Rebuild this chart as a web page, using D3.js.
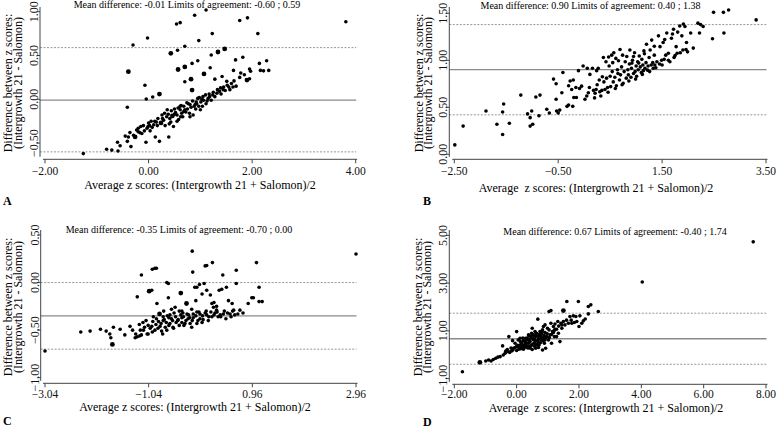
<!DOCTYPE html>
<html>
<head>
<meta charset="utf-8">
<script src="https://cdn.jsdelivr.net/npm/d3@7/dist/d3.min.js"></script>
<style>
  body { margin: 0; background: #fff; }
  svg { display: block; font-family: "Liberation Serif", "DejaVu Serif", serif; }
</style>
</head>
<body>
<div id="chart"></div>
<script>
// [average, difference, big?]
const pointsA = [
  [1.11,1.02],[0.89,0.96],[0.54,0.86],[0.61,0.875],[1.76,0.90],[1.91,0.93],[1.23,0.75],[2.11,0.75],
  [-0.02,0.70],[0.97,0.67],[-0.30,0.62],[0.70,0.605],[0.56,0.56],[0.43,0.525,1],[1.34,0.54,1],[1.47,0.575,1],
  [1.21,0.505],[1.68,0.45],[1.82,0.48],[0.95,0.44],[0.84,0.41],[2.14,0.41],[2.28,0.44],[0.57,0.34,1],
  [0.70,0.37,1],[1.19,0.36],[1.07,0.29,1],[-0.39,0.315,1],[1.64,0.33],[1.78,0.30],[1.97,0.32],[1.95,0.345],
  [2.16,0.33],[2.32,0.33],[2.22,0.325],[1.42,0.26],[1.28,0.23],[0.82,0.23,1],[0.70,0.20],[1.76,0.25],
  [1.85,0.28],[1.90,0.22,1],[1.95,0.235],[1.65,0.21],[1.51,0.205],[1.60,0.18],[1.69,0.15],[1.55,0.14],
  [1.39,0.13],[-0.07,0.16],[0.84,0.105,1],[0.21,0.06,1],[0.08,0.027],[-0.045,0.004],[-0.41,-0.09],[3.81,0.886],
  [-1.26,-0.62],[-0.81,-0.57],[-0.71,-0.58],[-0.59,-0.59],[-0.60,-0.49],[-0.55,-0.53],[-0.39,-0.43],[-0.41,-0.48],
  [-0.34,-0.54],[-0.29,-0.41],[-0.26,-0.43,1],[-0.23,-0.35],[-0.17,-0.38],[-0.13,-0.39],[-0.15,-0.31],[-0.08,-0.36],
  [-0.05,-0.49],[-0.03,-0.33],[0.02,-0.30],[0.03,-0.36],[0.07,-0.32],[0.10,-0.29],[0.13,-0.43],[0.17,-0.30],
  [0.21,-0.48],[0.24,-0.27,1],[0.29,-0.24],[0.32,-0.30],[0.36,-0.12],[0.39,-0.43],[0.41,-0.22],[0.43,-0.26],
  [0.46,-0.19,1],[0.48,-0.31],[0.52,-0.15],[0.55,-0.18],[0.58,-0.23],[0.61,-0.12],[0.64,-0.16],[0.66,-0.20],
  [0.70,-0.12],[0.72,-0.145],[0.75,-0.11],[0.79,-0.16],[0.82,-0.09],[0.86,-0.18],[0.88,-0.08],[0.91,-0.11],
  [0.93,-0.05],[0.97,-0.08],[1.01,-0.03],[1.04,-0.08],[1.06,-0.01],[1.11,-0.05],[1.15,0.01],[1.18,0.03],
  [1.21,-0.01],[1.24,0.05],[1.28,0.03],[1.32,0.07],[1.37,0.09],[1.40,0.06],[1.44,0.11],[1.48,0.10],
  [1.57,0.11],[1.63,0.14],[1.03,0.00],[0.77,-0.05],[0.61,-0.08],[0.95,0.01],[1.00,-0.12],[0.35,-0.20],
  [0.50,-0.17],[0.68,-0.14],[0.90,-0.06],[1.13,-0.02],[0.27,-0.22],[0.15,-0.26],[-0.01,-0.31],[-0.20,-0.37],
  [-0.20,-0.33],[-0.10,-0.30],[0.00,-0.27],[0.05,-0.25],[0.12,-0.25],[0.18,-0.22],[0.26,-0.18],[0.31,-0.16],
  [0.38,-0.17],[0.44,-0.13],[0.50,-0.11],[0.57,-0.10],[0.63,-0.07],[0.68,-0.08],[0.74,-0.04],[0.80,-0.06],
  [0.85,-0.02],[0.92,-0.03],[0.98,0.02],[1.05,0.03],[1.10,0.05],[1.17,0.06],[1.25,0.08],[1.33,0.11],
  [1.45,0.14],[1.52,0.16],[0.40,-0.28],[0.55,-0.25],[0.62,-0.20],[0.80,-0.20],[-0.45,-0.42],[-0.36,-0.38]
];
const pointsB = [
  [-2.49,0.10],[-2.33,0.30],[-1.89,0.46],[-1.68,0.32],[-1.55,0.535],[-1.57,0.45],[-1.44,0.33],[-1.57,0.21],
  [-1.22,0.63],[-1.09,0.43],[-1.04,0.39],[-1.01,0.46],[-1.04,0.30],[-0.99,0.32],[-0.93,0.61],[-0.85,0.63],
  [-0.87,0.41],[-0.72,0.48],[-0.67,0.44],[-0.59,0.80],[-0.54,0.75],[-0.54,0.585],[-0.50,0.44],[-0.53,0.46],
  [-0.47,0.47],[-0.43,0.655],[-0.41,0.87],[-0.33,0.51],[-0.30,0.525],[-0.30,0.73],[-0.27,0.78],[-0.24,0.69],
  [-0.22,0.51],[-0.21,0.79],[-0.20,0.605],[-0.16,0.71],[-0.15,0.605],[-0.11,0.89],[-0.09,0.70],[-0.05,0.725],
  [-0.02,0.94],[0.015,0.585],[0.05,0.62],[0.06,0.915],[0.08,0.655],[0.10,0.71],[0.11,0.85],[0.16,0.915],
  [0.18,0.68],[0.21,0.65],[0.23,0.69],[0.24,0.89],[0.27,0.915],[0.29,0.79],[0.30,0.665],[0.34,0.68],
  [0.35,0.825],[0.37,1.03],[0.38,0.77],[0.40,0.69],[0.42,0.985],[0.43,0.81],[0.45,0.71],[0.47,1.035],
  [0.48,0.94],[0.50,0.83],[0.51,0.72],[0.53,1.055],[0.54,0.88],[0.55,0.975],[0.56,0.77],[0.57,1.08],
  [0.59,0.82],[0.61,1.02],[0.62,0.73],[0.64,0.90],[0.66,0.995],[0.68,0.79],[0.69,1.115],[0.70,0.845],
  [0.72,0.93],[0.74,1.055],[0.75,0.755],[0.77,0.88],[0.79,0.985],[0.81,0.81],[0.82,1.04],[0.84,0.90],
  [0.85,0.845],[0.87,0.96],[0.88,1.11],[0.90,0.82],[0.91,0.915],[0.93,1.00],[0.95,0.86],[0.97,1.08],
  [0.98,0.88],[1.00,0.94],[1.01,0.83],[1.03,0.985],[1.04,0.90],[1.06,1.045],[1.08,0.93],[1.10,0.87],
  [1.11,1.01],[1.13,0.95],[1.14,0.89],[1.16,1.07],[1.17,0.915],[1.19,0.975],[1.20,1.17],[1.22,0.895],
  [1.23,0.94],[1.25,1.03],[1.27,1.11],[1.29,0.95],[1.30,1.215],[1.32,0.975],[1.33,0.915],[1.35,1.055],
  [1.36,0.95],[1.40,0.985],[1.43,1.26],[1.45,0.96],[1.46,1.145],[1.49,1.00],[1.52,1.19],[1.54,1.01],
  [1.57,1.055],[1.59,1.29],[1.62,1.075],[1.65,0.985],[1.68,1.235],[1.72,1.33],[1.73,1.03],[1.77,1.145],
  [1.79,1.075],[1.84,1.365],[1.88,1.26],[1.90,1.11],[1.91,1.385],[1.94,1.36],[1.96,1.115],[1.97,1.19],
  [1.99,1.09],[2.05,1.29],[2.10,1.13],[2.19,1.395],[2.22,1.29],[2.24,1.38],[2.29,1.36],[2.47,1.23],
  [2.49,1.51],[2.68,1.51],[2.69,1.29],[2.78,1.535],[3.31,1.43],
  [0.20,0.60],[0.32,0.62],[0.46,0.66],[0.60,0.70],[0.73,0.74],[0.86,0.78],[0.99,0.80],[1.12,0.85],
  [1.26,0.88],[1.38,0.92],[1.50,0.95],[1.62,1.00],[1.75,1.05],[1.85,1.08],[0.95,1.04],[1.15,1.10],
  [1.35,1.15],[1.55,1.22],[1.70,1.28],[1.80,1.30],[0.25,0.74],[0.65,0.86],[0.92,0.97],[1.05,0.97]
];
const pointsC = [
  [-3.04,-0.72],[-2.35,-0.52],[-2.17,-0.51],[-1.97,-0.49],[-1.86,-0.51],[-1.79,-0.54],[-1.72,-0.47],[-1.77,-0.58],
  [-1.74,-0.65,1],[-1.59,-0.49],[-1.50,-0.55],[-1.40,-0.46],[-1.35,-0.50],[-1.30,-0.58],[-1.26,-0.57],[-1.26,-0.15],
  [-1.21,-0.56],[-1.18,0.08],[-1.22,-0.44],[-1.14,-0.50],[-1.09,-0.40],[-1.07,-0.54],[-1.03,-0.09,1],[-0.98,-0.08],
  [-1.01,-0.48],[-0.97,0.14],[-0.92,0.15],[-0.89,0.15],[-0.96,-0.41],[-0.92,-0.50],[-0.88,-0.22],[-0.89,-0.38],
  [-0.83,-0.33,1],[-0.82,-0.46],[-0.79,-0.51],[-0.76,-0.40],[-0.72,-0.47],[-0.69,0.00],[-0.66,-0.01],[-0.68,-0.35],
  [-0.66,-0.16],[-0.63,-0.43],[-0.60,-0.38],[-0.57,-0.47],[-0.55,-0.32],[-0.53,-0.26],[-0.51,-0.42],[-0.48,-0.40],
  [-0.42,-0.11,1],[-0.40,-0.37],[-0.38,-0.32],[-0.36,-0.45],[-0.32,-0.40],[-0.31,-0.22,1],[-0.27,-0.34],[-0.24,-0.43],
  [-0.20,0.33],[-0.19,0.11],[-0.18,-0.37],[-0.15,-0.05],[-0.13,-0.19],[-0.11,-0.31],[-0.09,-0.40],[-0.06,-0.02],
  [0.03,-0.01],[0.05,0.175],[0.08,0.18],[0.19,0.21],[-0.11,-0.05],[-0.01,-0.12],[0.08,-0.08],[0.15,-0.13],
  [0.18,-0.22],[0.22,-0.21],[0.27,-0.29],[0.30,-0.36],[0.32,-0.08],[0.37,-0.07],[0.39,0.08],[0.46,-0.05],
  [0.50,-0.19],[0.53,-0.33],[0.57,-0.22],[0.60,-0.29],[0.65,0.13],[0.65,-0.01],[0.72,-0.29],[0.78,-0.32],
  [0.88,-0.22],[0.95,-0.16],[0.98,-0.16],[1.04,0.21],[1.09,-0.05],[1.09,-0.20],[1.15,-0.20],[0.08,-0.34],
  [0.18,-0.36],[0.24,-0.32],[0.34,-0.34],[0.40,-0.33],[-0.05,-0.33],[0.01,-0.39],[0.11,-0.40],[-0.21,-0.47],
  [-0.11,-0.43],[-0.01,-0.42],[-0.45,-0.45],[-0.34,-0.43],[-0.56,-0.48],[-0.69,-0.50],[-0.77,-0.54],[-0.97,-0.52],
  [-1.05,-0.54],[-1.18,-0.55],[-1.29,-0.54],[0.21,-0.26],[0.27,-0.25],[0.07,-0.30],[-0.21,-0.28],[-0.63,-0.34],
  [-0.76,-0.36],[-0.05,-0.38],[2.96,0.30],[-0.40,-0.30],[-0.28,-0.38],[0.45,-0.38],[0.55,-0.36],[0.62,-0.34],
  [-1.20,-0.50],[-1.12,-0.47],[-1.05,-0.45],[-0.98,-0.46],[-0.90,-0.44],[-0.85,-0.41],[-0.80,-0.43],[-0.74,-0.39],
  [-0.70,-0.42],[-0.65,-0.37],[-0.58,-0.40],[-0.52,-0.36],[-0.47,-0.39],[-0.42,-0.34],[-0.37,-0.36],[-0.30,-0.33],
  [-0.25,-0.37],[-0.18,-0.33],[-0.13,-0.35],[-0.07,-0.31],[0.00,-0.35],[0.05,-0.32],[0.12,-0.36],[0.16,-0.31],
  [0.22,-0.34],[0.28,-0.31],[0.35,-0.36],[0.42,-0.30],[0.48,-0.32],[0.58,-0.30],[0.68,-0.33],[-1.15,-0.42],
  [-0.95,-0.36],[-0.75,-0.30],[-0.60,-0.28],[-0.45,-0.30],[-0.86,-0.48],[-0.65,-0.45],[-0.40,-0.42],[-0.20,-0.40]
];
const pointsD = [
  [-1.74,-0.71],[-1.18,-0.32,1],[-0.99,-0.26],[-0.82,-0.26],[-0.67,-0.15],[-0.53,-0.08],[-0.43,-0.01],[-0.37,0.06],
  [-0.45,0.37],[-0.27,0.13],[-0.25,0.76],[-0.16,0.16],[-0.13,0.59],[-0.10,0.27],[0.00,0.97],[0.00,0.34],
  [0.05,0.62],[0.07,0.23],[0.11,0.41],[0.16,0.48],[0.16,0.31],[0.22,0.59],[0.22,0.23],[0.25,0.41],
  [0.29,0.69],[0.32,0.48],[0.32,0.31],[0.35,0.62],[0.38,0.37],[0.40,0.79],[0.43,0.55],[0.43,0.27],
  [0.46,0.69],[0.48,0.41],[0.50,1.11],[0.54,0.62],[0.54,0.83],[0.57,0.48],[0.59,0.73],[0.61,0.27],
  [0.64,0.90],[0.68,0.55],[0.68,1.49],[0.70,0.76],[0.72,0.41],[0.75,0.97],[0.78,0.62],[0.80,0.87],
  [0.83,0.20],[0.86,1.18],[0.86,0.69],[0.89,0.48],[0.91,0.93],[0.93,0.27],[0.96,0.76],[0.99,1.11],
  [1.02,0.62],[1.04,1.81],[1.07,0.83],[1.10,1.32],[1.10,1.85],[1.12,0.48],[1.15,0.97],[1.18,1.18],
  [1.21,0.76],[1.23,1.29],[1.28,1.07],[1.32,1.39],[1.34,0.90],[1.39,0.55],[1.42,1.32],[1.45,1.11],
  [1.50,1.39],[1.50,1.85,1],[1.55,1.25],[1.61,2.23],[1.66,1.32],[1.71,1.60],[1.77,1.32],[1.82,1.63],
  [1.85,1.35],[1.90,1.60],[1.93,1.39],[1.98,2.23],[2.00,1.18],[2.03,1.63],[2.14,1.42],[2.09,1.32],
  [2.30,2.02],[2.30,1.71],[2.38,2.09],[2.62,1.81],[-0.05,0.48],[0.11,0.69],[0.27,0.55],[0.38,0.83],
  [0.48,0.90],[0.59,0.97],[0.64,0.41],[0.78,0.76],[0.91,0.62],[1.04,1.04],[1.18,0.93],[1.23,1.07],
  [1.28,0.76],[0.91,1.25],[0.83,1.04],[4.03,3.05],[7.59,4.73],
  [-0.35,0.15],[-0.30,0.22],[-0.22,0.10],[-0.18,0.28],[-0.12,0.20],[-0.05,0.30],[0.00,0.18],[0.03,0.40],
  [0.08,0.32],[0.12,0.55],[0.14,0.25],[0.19,0.38],[0.20,0.70],[0.24,0.30],[0.28,0.50],[0.30,0.40],
  [0.34,0.70],[0.36,0.28],[0.40,0.50],[0.42,0.62],[0.45,0.36],[0.47,0.78],[0.52,0.45],[0.55,0.70],
  [0.58,0.35],[0.60,0.60],[0.63,0.80],[0.66,0.45],[0.70,0.65],[0.73,0.85],[0.76,0.50],[0.79,0.70],
  [0.82,0.95],[0.85,0.58],[0.88,0.80],[0.94,0.70],[0.98,0.88],[1.05,0.72],[1.12,0.85],[1.20,1.00],
  [-0.60,-0.10],[-0.75,-0.20],[-0.90,-0.22],[0.50,0.22],[0.70,0.30],[1.35,1.20],[1.45,1.25],[1.60,1.45],
  [1.75,1.45],[2.20,1.50]
];

// mean difference, lower limit, upper limit
const linesA = [-0.01, -0.60, 0.59];
const linesB = [0.90, 0.42, 1.38];
const linesC = [-0.35, -0.70, 0.00];
const linesD = [0.67, -0.40, 1.74];

const xTicksA = [-2, 0, 2, 4];
const yTicksA = [-0.5, 0, 0.5, 1];
const xTicksB = [-2.5, -0.5, 1.5, 3.5];
const yTicksB = [0, 0.5, 1, 1.5];
const xTicksC = [-3.04, -1.04, 0.96, 2.96];
const yTicksC = [-1, -0.5, 0, 0.5];
const xTicksD = [-2, 0, 2, 4, 6, 8];
const yTicksD = [-1, 1, 3, 5];

const titles = [
  "Mean difference: -0.01 Limits of agreement: -0.60 ; 0.59",
  "Mean difference: 0.90 Limits of agreement: 0.40 ; 1.38",
  "Mean difference: -0.35 Limits of agreement: -0.70 ; 0.00",
  "Mean difference: 0.67 Limits of agreement: -0.40 ; 1.74"
];
const xLabels = [
  "Average z scores: (Intergrowth 21 + Salomon)/2",
  "Average  z scores: (Intergrowth 21 + Salomon)/2",
  "Average z scores: (Intergrowth 21 + Salomon)/2",
  "Average  z scores: (Intergrowth 21 + Salomon)/2"
];
const yLabel1 = "Difference between z scores:";
const yLabel2 = "(Intergrowth 21 - Salomon)";
const letters = ["A", "B", "C", "D"];

const W = 778, H = 430;
const svg = d3.select("#chart").append("svg")
    .attr("width", W)
    .attr("height", H);

const fmt = d3.format(".2f");

function drawPanel(p) {
    const x = d3.scaleLinear().domain(p.xDomain).range(p.xRange);
    const y = d3.scaleLinear().domain(p.yDomain).range(p.yRange);
    const g = svg.append("g");
    const left = p.axisX, right = p.xRange[1] + 0.5;

    // reference lines
    g.append("line")
        .attr("x1", left).attr("x2", right)
        .attr("y1", y(p.lines[0])).attr("y2", y(p.lines[0]))
        .attr("stroke", "#8a8a8a").attr("stroke-width", 1.3);
    p.lines.slice(1).forEach(v => {
        g.append("line")
            .attr("x1", left).attr("x2", right)
            .attr("y1", y(v)).attr("y2", y(v))
            .attr("stroke", "#8a8a8a").attr("stroke-width", 0.9)
            .attr("stroke-dasharray", "2,1.5");
    });

    // y axis
    g.append("line")
        .attr("x1", p.axisX).attr("x2", p.axisX)
        .attr("y1", p.axisTop).attr("y2", p.axisY - 2.5)
        .attr("stroke", "#444").attr("stroke-width", 1);
    p.yTicks.forEach(v => {
        g.append("line")
            .attr("x1", p.axisX - 3.5).attr("x2", p.axisX)
            .attr("y1", y(v)).attr("y2", y(v))
            .attr("stroke", "#444");
        g.append("text")
            .attr("transform", `translate(${p.axisX - 2},${y(v)}) rotate(-90)`)
            .attr("text-anchor", "middle")
            .attr("font-size", 12)
            .attr("fill", "#111")
            .text(fmt(v));
    });

    // x axis
    g.append("line")
        .attr("x1", p.xRange[0] - 2).attr("x2", p.xRange[1] + 1.5)
        .attr("y1", p.axisY).attr("y2", p.axisY)
        .attr("stroke", "#444").attr("stroke-width", 1);
    p.xTicks.forEach(v => {
        g.append("line")
            .attr("x1", x(v)).attr("x2", x(v))
            .attr("y1", p.axisY).attr("y2", p.axisY + 4)
            .attr("stroke", "#444");
        g.append("text")
            .attr("x", x(v)).attr("y", p.axisY + p.tickGap)
            .attr("text-anchor", "middle")
            .attr("font-size", 11.5)
            .attr("fill", "#111")
            .text(fmt(v));
    });

    // points
    g.selectAll("circle.pt").data(p.points).join("circle")
        .attr("class", "pt")
        .attr("cx", d => x(d[0]))
        .attr("cy", d => y(d[1]))
        .attr("r", d => d[2] ? 2.4 : 1.8)
        .attr("fill", "#000");

    // texts
    g.append("text")
        .attr("x", p.titlePos[0]).attr("y", p.titlePos[1])
        .attr("text-anchor", "middle").attr("font-size", 10)
        .attr("fill", "#000")
        .text(p.title);
    g.append("text")
        .attr("x", p.xLabelPos[0]).attr("y", p.xLabelPos[1])
        .attr("text-anchor", "middle").attr("font-size", 12)
        .attr("fill", "#000")
        .style("white-space", "pre")
        .text(p.xLabel);
    [yLabel1, yLabel2].forEach((t, i) => {
        g.append("text")
            .attr("transform", `translate(${p.yLabelX[i]},${p.yLabelY}) rotate(-90)`)
            .attr("text-anchor", "middle").attr("font-size", 12)
            .attr("fill", "#000")
            .text(t);
    });
    g.append("text")
        .attr("x", p.letterPos[0]).attr("y", p.letterPos[1])
        .attr("font-size", 12).attr("font-weight", "bold")
        .attr("fill", "#000")
        .text(p.letter);
}

drawPanel({
    points: pointsA, lines: linesA, xTicks: xTicksA, yTicks: yTicksA,
    xDomain: [-2, 4], xRange: [45, 355.7], yDomain: [-0.5, 1], yRange: [143.1, 11.7],
    axisX: 40, axisY: 159.3, axisTop: 7, tickGap: 15.5,
    title: titles[0], titlePos: [187, 8],
    xLabel: xLabels[0], xLabelPos: [200, 188.8],
    yLabelX: [12, 22], yLabelY: 83,
    letter: letters[0], letterPos: [3, 205]
});
drawPanel({
    points: pointsB, lines: linesB, xTicks: xTicksB, yTicks: yTicksB,
    xDomain: [-2.5, 3.5], xRange: [454.3, 766], yDomain: [0, 1.5], yRange: [154.3, 13.3],
    axisX: 449.3, axisY: 159.3, axisTop: 7, tickGap: 15.5,
    title: titles[1], titlePos: [590.5, 9],
    xLabel: xLabels[1], xLabelPos: [596, 192],
    yLabelX: [423, 432], yLabelY: 83,
    letter: letters[1], letterPos: [423, 205]
});
drawPanel({
    points: pointsC, lines: linesC, xTicks: xTicksC, yTicks: yTicksC,
    xDomain: [-3.04, 2.96], xRange: [45, 356], yDomain: [-1, 0.5], yRange: [377.7, 235],
    axisX: 40.7, axisY: 383.3, axisTop: 230, tickGap: 14.5,
    title: titles[2], titlePos: [179, 232.5],
    xLabel: xLabels[2], xLabelPos: [195, 411.3],
    yLabelX: [12, 22], yLabelY: 307,
    letter: letters[2], letterPos: [3, 425]
});
drawPanel({
    points: pointsD, lines: linesD, xTicks: xTicksD, yTicks: yTicksD,
    xDomain: [-2, 8], xRange: [454.3, 766], yDomain: [-1, 5], yRange: [378.6, 235.4],
    axisX: 449.3, axisY: 384.3, axisTop: 230, tickGap: 14,
    title: titles[3], titlePos: [615, 235],
    xLabel: xLabels[3], xLabelPos: [606, 411.8],
    yLabelX: [421.5, 431], yLabelY: 307,
    letter: letters[3], letterPos: [423, 426]
});
</script>
</body>
</html>
